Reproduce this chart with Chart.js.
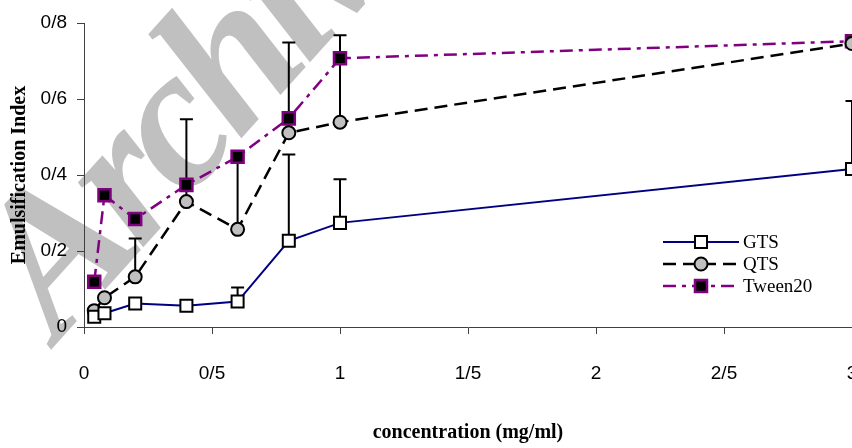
<!DOCTYPE html>
<html><head><meta charset="utf-8">
<script src="https://cdn.jsdelivr.net/npm/chart.js@4/dist/chart.umd.min.js"></script>
<style>html,body{margin:0;padding:0;background:#fff;}#wrap{width:852px;height:448px;}</style>
</head><body><div id="wrap"><canvas id="c" width="852" height="448"></canvas></div>
<script>
// ---- data ----
const concentrations = [0.04, 0.08, 0.2, 0.4, 0.6, 0.8, 1, 3];
const seriesNames = ['GTS', 'QTS', 'Tween20'];
const gtsValues    = [0.027, 0.036, 0.062, 0.056, 0.067, 0.227, 0.274, 0.416];
const qtsValues    = [0.043, 0.077, 0.132, 0.330, 0.257, 0.511, 0.539, 0.746];
const tweenValues  = [0.119, 0.347, 0.284, 0.374, 0.448, 0.549, 0.707, 0.752];
// upper ends of the (one-sided) error bars; null = no bar visible
const gtsErrTop    = [null, null, null, null, 0.104, 0.454, 0.389, 0.595];
const qtsErrTop    = [null, null, 0.233, 0.547, 0.448, 0.749, 0.768, null];
const tweenErrTop  = [null, null, null, null, null, null, null, null];
const xTickLabels  = ['0', '0/5', '1', '1/5', '2', '2/5', '3'];
const yTickLabels  = ['0', '0/2', '0/4', '0/6', '0/8'];
const xTitle = 'concentration (mg/ml)';
const yTitle = 'Emulsification Index';
const watermarkText = 'Archive';

const toPts = (vals) => concentrations.map((x, i) => ({x: x, y: vals[i]}));

const tickFont = {family: "'Liberation Sans Narrow', 'Liberation Sans', Arial, sans-serif", size: 19};
const titleFont = {family: "'Liberation Serif', 'Times New Roman', serif", size: 20, weight: 'bold'};
const axisColor = '#404040';

const watermarkPlugin = {
  id: 'watermark',
  beforeDraw(chart) {
    const ctx = chart.ctx;
    ctx.save();
    ctx.translate(58, 342);
    ctx.rotate(-48 * Math.PI / 180);
    ctx.font = "italic bold 200px 'Liberation Serif', serif";
    if ('letterSpacing' in ctx) ctx.letterSpacing = '-10px';
    ctx.fillStyle = '#c0c0c0';
    ctx.textBaseline = 'alphabetic';
    ctx.fillText(watermarkText, 0, 0);
    ctx.restore();
  }
};

const errorBarPlugin = {
  id: 'errorBars',
  beforeDatasetsDraw(chart) {
    const ctx = chart.ctx;
    const xs = chart.scales.x, ys = chart.scales.y;
    const tops = [gtsErrTop, qtsErrTop, tweenErrTop];
    const vals = [gtsValues, qtsValues, tweenValues];
    ctx.save();
    ctx.strokeStyle = '#000';
    ctx.lineWidth = 2;
    ctx.setLineDash([]);
    tops.forEach((arr, d) => {
      arr.forEach((t, i) => {
        if (t === null) return;
        const px = xs.getPixelForValue(concentrations[i]);
        const py0 = ys.getPixelForValue(vals[d][i]);
        const py1 = ys.getPixelForValue(t);
        ctx.beginPath();
        ctx.moveTo(px, py0);
        ctx.lineTo(px, py1);
        ctx.moveTo(px - 6.5, py1);
        ctx.lineTo(px + 6.5, py1);
        ctx.stroke();
      });
    });
    ctx.restore();
  }
};

const legendPlugin = {
  id: 'customLegend',
  afterDraw(chart) {
    const ctx = chart.ctx;
    const x0 = 663, x1 = 739, rows = [242, 264, 286];
    chart.data.datasets.forEach((ds, i) => {
      const y = rows[i];
      ctx.save();
      ctx.strokeStyle = ds.borderColor;
      ctx.lineWidth = ds.borderWidth;
      ctx.setLineDash(ds.borderDash || []);
      ctx.lineDashOffset = ds.legendDashOffset || 0;
      ctx.beginPath();
      ctx.moveTo(x0, y);
      ctx.lineTo(x1, y);
      ctx.stroke();
      ctx.setLineDash([]);
      ctx.fillStyle = ds.pointBackgroundColor;
      ctx.strokeStyle = ds.pointBorderColor;
      ctx.lineWidth = ds.pointBorderWidth;
      Chart.helpers.drawPoint(ctx, {pointStyle: ds.pointStyle, radius: ds.pointRadius, rotation: 0, borderWidth: ds.pointBorderWidth}, (x0 + x1) / 2, y);
      ctx.fillStyle = '#000';
      ctx.font = "19px 'Liberation Serif', 'Times New Roman', serif";
      ctx.textBaseline = 'middle';
      ctx.textAlign = 'left';
      ctx.fillText(ds.label, 743, y + 1);
      ctx.restore();
    });
  }
};

new Chart(document.getElementById('c'), {
  type: 'line',
  data: {
    datasets: [
      {
        label: seriesNames[0], data: toPts(gtsValues),
        borderColor: '#000080', borderWidth: 2, borderDash: [],
        pointStyle: 'rect', pointRadius: 8.5, pointBackgroundColor: '#ffffff',
        pointBorderColor: '#000000', pointBorderWidth: 2, clip: false
      },
      {
        label: seriesNames[1], data: toPts(qtsValues),
        borderColor: '#000000', borderWidth: 2.5, borderDash: [13, 7],
        pointStyle: 'circle', pointRadius: 6.5, pointBackgroundColor: '#c0c0c0',
        pointBorderColor: '#000000', pointBorderWidth: 2, clip: false, legendDashOffset: 0
      },
      {
        label: seriesNames[2], data: toPts(tweenValues),
        borderColor: '#800080', borderWidth: 2.5, borderDash: [13, 6, 4, 6],
        pointStyle: 'rect', pointRadius: 8.5, pointBackgroundColor: '#000000',
        pointBorderColor: '#800080', pointBorderWidth: 2.5, clip: false, legendDashOffset: 0
      }
    ]
  },
  options: {
    responsive: false,
    devicePixelRatio: 1,
    animation: false,
    layout: {autoPadding: false, padding: {top: 23, right: 0, left: 0, bottom: 0}},
    plugins: {legend: {display: false}, tooltip: {enabled: false}},
    elements: {line: {tension: 0}},
    scales: {
      x: {
        type: 'linear', position: 'bottom', min: 0, max: 3,
        ticks: {stepSize: 0.5, autoSkip: false, maxRotation: 0, padding: 28, color: '#000', font: tickFont,
          callback: (v, i) => xTickLabels[i]},
        grid: {drawOnChartArea: false, drawTicks: true, tickLength: 7, color: axisColor},
        border: {display: true, color: axisColor, width: 1},
        title: {display: true, text: xTitle, color: '#000', font: titleFont, padding: {top: 0, bottom: 3}},
        afterFit: (s) => { s.height = 121; s.paddingLeft = 0; s.paddingRight = 0; }
      },
      y: {
        type: 'linear', min: 0, max: 0.8,
        ticks: {stepSize: 0.2, padding: 10, color: '#000', font: tickFont,
          callback: (v, i) => yTickLabels[i]},
        grid: {drawOnChartArea: false, drawTicks: true, tickLength: 7, color: axisColor},
        border: {display: true, color: axisColor, width: 1},
        title: {display: true, text: yTitle, color: '#000', font: titleFont, padding: {top: 8, bottom: 0}},
        afterFit: (s) => { s.width = 84; s.paddingTop = 0; s.paddingBottom = 0; }
      }
    }
  },
  plugins: [watermarkPlugin, errorBarPlugin, legendPlugin]
});
</script>
</body></html>
